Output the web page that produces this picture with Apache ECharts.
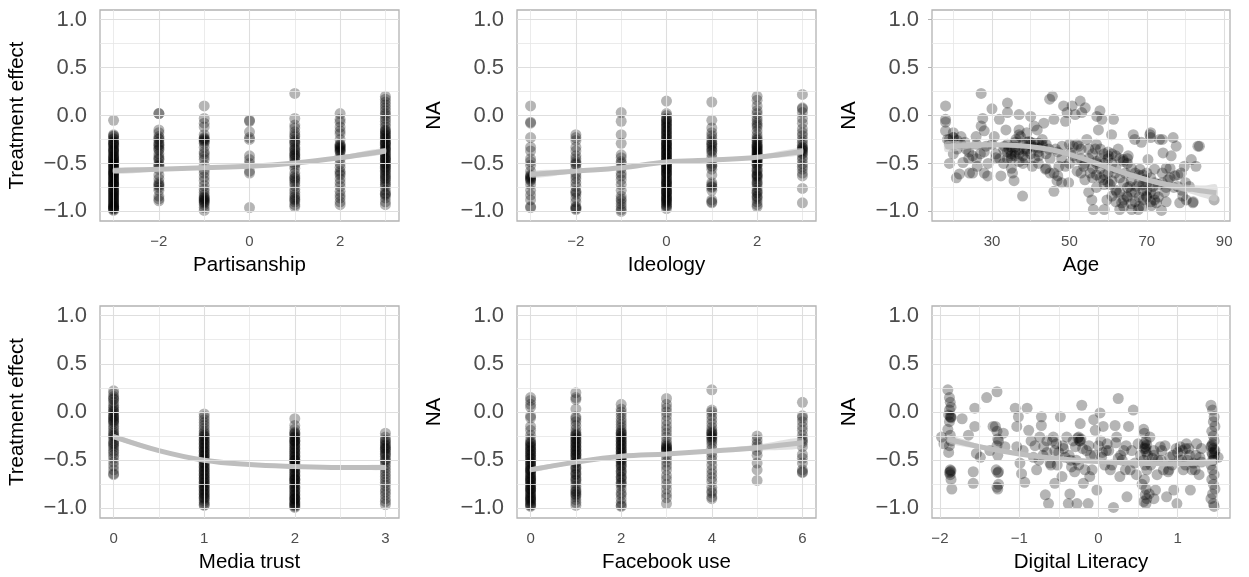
<!DOCTYPE html>
<html><head><meta charset="utf-8">
<script src="https://cdn.jsdelivr.net/npm/echarts@6/dist/echarts.min.js"></script>
<style>html,body{margin:0;padding:0;background:#fff}#c{width:1249px;height:577px}</style>
</head><body><div id="c"></div>
<script>
// ---------------- DATA ----------------
const partisanshipX = [-3, -2, -1, 0, 1, 2, 3];
const partisanshipY = [
  [-0.05,-0.2,-0.22,-0.25,-0.27,-0.29,-0.3,-0.32,-0.34,-0.35,-0.37,-0.39,-0.41,-0.43,-0.45,-0.46,-0.48,-0.5,-0.52,-0.53,-0.55,-0.57,-0.59,-0.6,-0.62,-0.64,-0.66,-0.68,-0.7,-0.72,-0.74,-0.76,-0.78,-0.8,-0.82,-0.84,-0.86,-0.88,-0.9,-0.92,-0.94,-0.96,-0.97,-0.98,-0.99,-0.6,-0.65,-0.72,-0.81,-0.95,
   -0.21,-0.24,-0.28,-0.31,-0.36,-0.38,-0.42,-0.44,-0.47,-0.49,-0.51,-0.54,-0.56,-0.58,-0.61,-0.63,-0.67,-0.69,-0.71,-0.73,-0.77,-0.79,-0.83,-0.85,-0.87,-0.89,-0.91,-0.93,-0.95,-0.97],
  [0.02,0.02,-0.15,-0.18,-0.22,-0.25,-0.28,-0.31,-0.33,-0.36,-0.4,-0.43,-0.46,-0.5,-0.53,-0.56,-0.62,-0.66,-0.7,-0.72,-0.75,-0.78,-0.84,-0.87,-0.89,-0.24,-0.3,-0.35,-0.45,-0.52,-0.73],
  [0.1,-0.03,-0.08,-0.12,-0.2,-0.23,-0.25,-0.27,-0.29,-0.33,-0.38,-0.4,-0.43,-0.46,-0.52,-0.57,-0.6,-0.64,-0.68,-0.73,-0.77,-0.8,-0.83,-0.85,-0.87,-0.88,-0.9,-0.93,-0.96,-0.99,-0.24,-0.26,-0.86,-0.89,-0.91],
  [-0.05,-0.06,-0.17,-0.23,-0.25,-0.42,-0.46,-0.5,-0.58,-0.6,-0.96],
  [0.23,-0.03,-0.1,-0.13,-0.17,-0.2,-0.22,-0.25,-0.28,-0.3,-0.33,-0.36,-0.38,-0.4,-0.42,-0.45,-0.48,-0.5,-0.55,-0.6,-0.63,-0.66,-0.7,-0.73,-0.77,-0.8,-0.83,-0.87,-0.9,-0.93,-0.95,-0.27,-0.35,-0.41,-0.44,-0.52,-0.65,-0.68,-0.85,-0.88],
  [0.02,-0.04,-0.07,-0.12,-0.16,-0.19,-0.25,-0.3,-0.32,-0.33,-0.34,-0.36,-0.38,-0.42,-0.45,-0.5,-0.54,-0.58,-0.62,-0.66,-0.7,-0.74,-0.79,-0.83,-0.86,-0.9,-0.93,-0.31,-0.35,-0.37,-0.6],
  [0.2,0.17,0.14,0.11,0.08,0.05,0.02,0.0,-0.03,-0.06,-0.09,-0.12,-0.15,-0.17,-0.19,-0.21,-0.23,-0.25,-0.27,-0.29,-0.31,-0.33,-0.35,-0.37,-0.39,-0.41,-0.43,-0.45,-0.47,-0.49,-0.51,-0.53,-0.55,-0.57,-0.6,-0.63,-0.66,-0.7,-0.74,-0.78,-0.81,-0.83,-0.86,-0.9,-0.93,
   -0.16,-0.2,-0.24,-0.28,-0.3,-0.34,-0.36,-0.4,-0.44,-0.46,-0.5,-0.54,-0.58,-0.62,-0.65,-0.68,-0.72,-0.82]
];
const partisanshipFitX = [-3, -2, -1, 0, 1, 2, 3];
const partisanshipFitY = [-0.575, -0.56, -0.545, -0.53, -0.495, -0.44, -0.37];
const partisanshipFitLo = [-0.605, -0.58, -0.56, -0.545, -0.51, -0.46, -0.4];
const partisanshipFitHi = [-0.545, -0.54, -0.53, -0.515, -0.48, -0.42, -0.34];

const ideologyX = [-3, -2, -1, 0, 1, 2, 3];
const ideologyY = [
  [0.1,-0.07,-0.08,-0.23,-0.33,-0.37,-0.45,-0.48,-0.52,-0.58,-0.62,-0.63,-0.64,-0.66,-0.68,-0.72,-0.78,-0.83,-0.88,-0.95,-0.96,-0.65,-0.67],
  [-0.2,-0.23,-0.26,-0.33,-0.37,-0.42,-0.45,-0.48,-0.51,-0.55,-0.6,-0.63,-0.66,-0.7,-0.74,-0.79,-0.82,-0.86,-0.9,-0.95,-0.97,-0.98,-0.5,-0.8,-0.96],
  [0.03,-0.06,-0.2,-0.29,-0.41,-0.44,-0.48,-0.5,-0.55,-0.6,-0.63,-0.67,-0.72,-0.78,-0.84,-0.87,-0.89,-0.92,-0.95,-0.98,-1.0],
  [0.15,0.02,0.0,-0.03,-0.05,-0.07,-0.09,-0.11,-0.13,-0.15,-0.17,-0.19,-0.21,-0.23,-0.25,-0.27,-0.29,-0.31,-0.33,-0.35,-0.37,-0.39,-0.41,-0.43,-0.45,-0.47,-0.49,-0.51,-0.53,-0.55,-0.57,-0.59,-0.61,-0.63,-0.65,-0.67,-0.69,-0.71,-0.73,-0.75,-0.77,-0.79,-0.81,-0.83,-0.85,-0.87,-0.89,-0.91,-0.93,-0.95,-0.97,-0.3,-0.4,-0.5,-0.6,-0.7,-0.8,-0.88,
   -0.04,-0.08,-0.12,-0.16,-0.2,-0.24,-0.28,-0.32,-0.36,-0.4,-0.44,-0.48,-0.52,-0.56,-0.6,-0.64,-0.68,-0.72,-0.76,-0.8,-0.84,-0.86,-0.9,-0.94,-0.35,-0.45,-0.55],
  [0.14,-0.05,-0.13,-0.18,-0.21,-0.24,-0.27,-0.3,-0.32,-0.34,-0.37,-0.4,-0.44,-0.5,-0.53,-0.56,-0.62,-0.7,-0.72,-0.75,-0.78,-0.88,-0.9,-0.91,-0.29,-0.36,-0.52,-0.74],
  [0.2,0.16,0.1,0.05,0.02,-0.02,-0.05,-0.08,-0.12,-0.16,-0.2,-0.23,-0.26,-0.28,-0.3,-0.32,-0.34,-0.36,-0.38,-0.4,-0.42,-0.44,-0.46,-0.48,-0.5,-0.52,-0.55,-0.58,-0.61,-0.63,-0.66,-0.69,-0.72,-0.75,-0.78,-0.81,-0.84,-0.87,-0.9,-0.93,-0.95,-0.35,-0.45,-0.62,
   -0.1,-0.25,-0.31,-0.33,-0.37,-0.39,-0.41,-0.43,-0.47,-0.51,-0.57,-0.64,-0.7,-0.8,-0.85],
  [0.22,0.08,0.07,0.03,-0.03,-0.08,-0.14,-0.18,-0.21,-0.25,-0.28,-0.31,-0.33,-0.35,-0.37,-0.4,-0.43,-0.46,-0.5,-0.53,-0.56,-0.6,-0.63,-0.76,-0.91,-0.34,-0.36,-0.39]
];
const ideologyFitX = [-3, -2, -1, 0, 1, 2, 3];
const ideologyFitY = [-0.615, -0.58, -0.545, -0.485, -0.465, -0.435, -0.375];
const ideologyFitLo = [-0.65, -0.6, -0.56, -0.5, -0.48, -0.455, -0.41];
const ideologyFitHi = [-0.58, -0.56, -0.53, -0.47, -0.45, -0.415, -0.34];

const ageX = [18,18,18,18,18.5,19,20,20,20.8,21.6,22.5,22,23.3,24.2,25,25.9,26.2,27.2,27.2,27.6,28,28,28.5,28.9,30,30.6,31,31.9,32.3,33.2,33.6,34,34,34.4,34.9,35.3,35.7,36.2,37,37,37.4,37.9,38.3,38.7,39.6,40,40.4,40.9,41.7,42.1,43,43.4,43.8,44.7,44.9,45.6,46,46.4,46,46.8,47.3,48.1,48.5,49,49.4,49.8,50.3,50.7,51.5,52,52.4,52.8,53.2,53.7,54.1,54.5,55,55.4,55.8,56.2,56.7,57.1,57.5,57.9,58.4,58.8,59,59.7,60.1,60.5,60.9,61.4,61.8,62.2,62.6,63,63.5,63.9,64.4,64.8,65.2,65.6,66.1,66.5,66.9,67.4,67.8,68.2,68.6,69.1,69.5,69.9,70.3,70.8,71.2,71.6,72,72.5,73.3,73.8,74.2,74.6,75,75.5,76.3,76.8,77.2,77.6,78,78.5,78.9,79.3,79.7,80.2,81,81.5,81.9,82.7,83.2,83.6,87.4,
  33,34,35,36,37,38,39,40,41,42,43,35,36,37,20,19,21,50,51,52,53,55,57,58,59,60,61,62,63,64,65,66,67,68,69,70,71,72,64,66,68,70,62,61,65,74,75,73,76,69,71,71,74,46,48,47,44,45,53,54,56,57,58,59,60,57,52,49,42,41,39,32,31,29,27,26,24,23,25,
  34,35,36,37,38,39,40,41,42,43,44,36,34,38,40,42,33,35,37,39,30,28,26,24,22,21,19,20,
  55,56,57,58,59,60,61,62,63,64,65,66,67,68,69,70,71,72,73,63,62,64,65,66,67,68,69,70,71,72,60,61,59,58,57,56,54,53,51,50,48,47,45,44,76,77,78,80,79,82,74,75];
const ageY = [0.1,-0.04,-0.07,-0.16,-0.25,-0.5,-0.18,-0.23,-0.65,-0.61,-0.49,-0.22,-0.35,-0.6,-0.42,-0.22,-0.53,0.23,-0.11,-0.03,-0.16,-0.6,-0.32,-0.63,0.07,-0.22,-0.44,-0.04,-0.63,-0.32,-0.15,0.13,0.03,-0.35,-0.42,-0.6,-0.68,-0.25,0.01,-0.15,-0.22,-0.84,-0.35,-0.46,-0.27,-0.01,-0.53,-0.11,-0.15,-0.42,-0.25,-0.08,-0.56,-0.35,0.17,0.2,-0.04,-0.35,-0.79,-0.68,-0.53,-0.32,0.1,-0.06,0.03,-0.7,-0.39,0.1,0.01,-0.46,-0.32,0.15,0.03,-0.53,0.08,-0.25,-0.8,-0.6,-0.88,-0.98,-0.35,-0.01,-0.15,0.05,-0.04,-0.67,-0.98,-0.88,-0.42,-0.72,-0.2,-0.04,-0.6,-0.8,-0.35,-0.98,-0.91,-0.46,-0.6,-0.84,-0.42,-0.74,-0.98,-0.2,-0.25,-0.74,-0.98,-0.56,-0.28,-0.88,-0.67,-0.84,-0.46,-0.2,-0.94,-0.74,-0.56,-0.91,-0.25,-0.99,-0.39,-0.8,-0.55,-0.67,-0.42,-0.23,-0.63,-0.32,-0.74,-0.91,-0.6,-0.84,-0.53,-0.88,-0.74,-0.46,-0.91,-0.53,-0.32,-0.32,-0.88,
  -0.35,-0.38,-0.4,-0.33,-0.36,-0.3,-0.37,-0.31,-0.29,-0.34,-0.32,-0.45,-0.42,-0.48,-0.23,-0.25,-0.26,-0.3,-0.32,-0.3,-0.35,-0.45,-0.48,-0.55,-0.4,-0.45,-0.5,-0.42,-0.65,-0.7,-0.75,-0.68,-0.8,-0.85,-0.72,-0.78,-0.9,-0.7,-0.88,-0.92,-0.62,-0.6,-0.78,-0.84,-0.5,-0.6,-0.75,-0.85,-0.65,-0.95,-0.23,-0.18,-0.25,-0.6,-0.7,-0.63,-0.55,-0.6,-0.6,-0.67,-0.55,-0.3,-0.35,-0.62,-0.7,-0.75,-0.58,-0.53,-0.5,-0.45,-0.28,-0.45,-0.4,-0.5,-0.4,-0.45,-0.38,-0.28,-0.6,
  -0.3,-0.33,-0.38,-0.4,-0.42,-0.35,-0.28,-0.33,-0.38,-0.3,-0.4,-0.28,-0.45,-0.5,-0.4,-0.29,-0.5,-0.55,-0.2,-0.18,-0.3,-0.38,-0.3,-0.45,-0.3,-0.35,-0.3,-0.4,
  -0.35,-0.4,-0.62,-0.45,-0.5,-0.38,-0.4,-0.55,-0.45,-0.48,-0.45,-0.55,-0.6,-0.7,-0.78,-0.85,-0.8,-0.88,-0.72,-0.8,-0.9,-0.95,-0.85,-0.8,-0.9,-0.95,-0.62,-0.7,-0.65,-0.82,-0.6,-0.68,-0.72,-0.65,-0.5,-0.65,-0.5,-0.45,-0.42,-0.5,-0.45,-0.38,-0.45,-0.3,-0.55,-0.75,-0.62,-0.7,-0.78,-0.9,-0.7,-0.9];
const ageFitX = [18, 25, 30, 35, 40, 45, 50, 55, 60, 65, 70, 75, 80, 85, 88];
const ageFitY = [-0.325, -0.31, -0.305, -0.31, -0.325, -0.355, -0.405, -0.47, -0.54, -0.61, -0.67, -0.72, -0.76, -0.79, -0.805];
const ageFitLo = [-0.38, -0.34, -0.325, -0.33, -0.345, -0.375, -0.425, -0.49, -0.56, -0.63, -0.69, -0.75, -0.8, -0.86, -0.89];
const ageFitHi = [-0.27, -0.28, -0.285, -0.29, -0.305, -0.335, -0.385, -0.45, -0.52, -0.59, -0.65, -0.69, -0.72, -0.73, -0.72];

const mediaTrustX = [0, 1, 2, 3];
const mediaTrustY = [
  [0.22,0.19,0.16,0.13,0.1,0.07,0.05,0.03,0.01,-0.02,-0.04,-0.06,-0.08,-0.1,-0.12,-0.15,-0.17,-0.2,-0.22,-0.25,-0.27,-0.3,-0.32,-0.35,-0.37,-0.4,-0.42,-0.45,-0.48,-0.52,-0.56,-0.6,-0.64,-0.65,0.14,0.0,-0.05,-0.09,-0.24,-0.33],
  [-0.02,-0.05,-0.08,-0.11,-0.14,-0.17,-0.2,-0.22,-0.24,-0.26,-0.28,-0.3,-0.32,-0.34,-0.36,-0.38,-0.4,-0.42,-0.44,-0.46,-0.48,-0.5,-0.52,-0.54,-0.56,-0.58,-0.6,-0.62,-0.64,-0.66,-0.68,-0.7,-0.72,-0.74,-0.76,-0.78,-0.8,-0.82,-0.84,-0.86,-0.88,-0.9,-0.92,-0.94,-0.96,-0.97,
   -0.25,-0.29,-0.33,-0.37,-0.41,-0.45,-0.49,-0.53,-0.57,-0.61,-0.65,-0.69,-0.73,-0.77,-0.81,-0.85,-0.89],
  [-0.07,-0.14,-0.18,-0.21,-0.23,-0.25,-0.27,-0.29,-0.31,-0.33,-0.35,-0.37,-0.39,-0.41,-0.43,-0.45,-0.47,-0.49,-0.51,-0.53,-0.55,-0.57,-0.59,-0.61,-0.63,-0.65,-0.67,-0.69,-0.71,-0.73,-0.75,-0.77,-0.79,-0.81,-0.83,-0.85,-0.87,-0.89,-0.91,-0.93,-0.95,-0.97,-0.98,-0.99,-0.3,-0.5,-0.7,-0.9,
   -0.22,-0.26,-0.3,-0.34,-0.38,-0.42,-0.46,-0.5,-0.54,-0.58,-0.62,-0.66,-0.7,-0.74,-0.78,-0.82,-0.86,-0.9,-0.94,-0.96],
  [-0.22,-0.26,-0.29,-0.32,-0.35,-0.37,-0.39,-0.41,-0.43,-0.46,-0.49,-0.52,-0.55,-0.58,-0.61,-0.64,-0.67,-0.7,-0.73,-0.76,-0.8,-0.83,-0.86,-0.9,-0.93,-0.96,-0.3,-0.34,-0.38,-0.44,-0.5]
];
const mediaTrustFitX = [0, 0.5, 1, 1.5, 2, 2.5, 3];
const mediaTrustFitY = [-0.255, -0.4, -0.5, -0.545, -0.565, -0.575, -0.575];
const mediaTrustFitLo = [-0.28, -0.415, -0.515, -0.558, -0.578, -0.59, -0.6];
const mediaTrustFitHi = [-0.23, -0.385, -0.485, -0.532, -0.552, -0.56, -0.55];

const facebookX = [0, 1, 2, 3, 4, 5, 6];
const facebookY = [
  [0.15,0.12,0.08,0.05,-0.04,-0.06,-0.15,-0.19,-0.24,-0.28,-0.31,-0.33,-0.35,-0.37,-0.39,-0.41,-0.43,-0.45,-0.47,-0.49,-0.51,-0.53,-0.55,-0.57,-0.59,-0.61,-0.63,-0.65,-0.67,-0.69,-0.71,-0.73,-0.75,-0.77,-0.79,-0.81,-0.83,-0.85,-0.87,-0.89,-0.91,-0.93,-0.95,-0.97,-0.98,-0.6,-0.7,-0.8,-0.9,
   -0.32,-0.36,-0.4,-0.44,-0.48,-0.52,-0.56,-0.6,-0.64,-0.68,-0.72,-0.76,-0.8,-0.84,-0.88,-0.92,-0.96],
  [0.2,0.15,0.13,0.03,-0.05,-0.07,-0.1,-0.14,-0.18,-0.21,-0.23,-0.25,-0.27,-0.29,-0.31,-0.33,-0.35,-0.37,-0.39,-0.41,-0.43,-0.45,-0.47,-0.5,-0.53,-0.56,-0.59,-0.62,-0.65,-0.68,-0.71,-0.74,-0.77,-0.8,-0.83,-0.85,-0.88,-0.91,-0.94,-0.97,
   -0.24,-0.28,-0.32,-0.36,-0.4,-0.44,-0.48,-0.52,-0.58,-0.64,-0.7,-0.82,-0.86],
  [0.08,0.03,0.0,-0.03,-0.07,-0.1,-0.13,-0.16,-0.19,-0.21,-0.23,-0.25,-0.27,-0.29,-0.31,-0.33,-0.35,-0.37,-0.39,-0.41,-0.43,-0.45,-0.47,-0.49,-0.51,-0.53,-0.55,-0.58,-0.61,-0.64,-0.67,-0.7,-0.73,-0.76,-0.8,-0.84,-0.86,-0.9,-0.94,-0.97,-0.98,
   -0.22,-0.26,-0.3,-0.34,-0.38,-0.42,-0.46,-0.5,-0.56,-0.62,-0.68,-0.74],
  [0.14,0.08,0.04,0.0,-0.04,-0.09,-0.14,-0.18,-0.22,-0.26,-0.3,-0.33,-0.35,-0.37,-0.39,-0.41,-0.44,-0.48,-0.52,-0.56,-0.6,-0.66,-0.7,-0.75,-0.8,-0.85,-0.89,-0.95,-0.36,-0.38,-0.4],
  [0.23,0.02,0.0,-0.04,-0.08,-0.12,-0.16,-0.19,-0.21,-0.23,-0.25,-0.27,-0.29,-0.31,-0.34,-0.38,-0.42,-0.46,-0.5,-0.55,-0.6,-0.64,-0.68,-0.72,-0.78,-0.82,-0.84,-0.88,-0.9,-0.22,-0.26],
  [-0.25,-0.29,-0.33,-0.36,-0.4,-0.45,-0.53,-0.6,-0.71],
  [0.1,-0.04,-0.06,-0.1,-0.15,-0.19,-0.24,-0.28,-0.3,-0.32,-0.36,-0.44,-0.48,-0.53,-0.6,-0.62,-0.63]
];
const facebookFitX = [0, 1, 2, 3, 4, 5, 6];
const facebookFitY = [-0.6, -0.52, -0.46, -0.435, -0.405, -0.37, -0.32];
const facebookFitLo = [-0.625, -0.535, -0.475, -0.45, -0.425, -0.4, -0.37];
const facebookFitHi = [-0.575, -0.505, -0.445, -0.42, -0.385, -0.34, -0.27];

const literacyX = [-1.9,-1.88,-1.87,-1.86,-1.88,-1.89,-1.87,-1.86,-1.88,-1.9,-1.87,-1.86,-1.88,-1.89,-1.87,-1.86,-1.88,-1.87,-1.86,-1.85,-1.98,-1.95,
  -1.3,-1.28,-1.27,-1.26,-1.28,-1.27,-1.29,-1.27,-1.26,-1.28,-1.27,
  0.57,0.58,0.6,0.61,0.59,0.58,0.6,0.62,0.57,0.59,0.61,0.58,0.6,0.59,0.61,0.57,0.6,
  1.42,1.44,1.46,1.45,1.47,1.43,1.45,1.46,1.44,1.42,1.45,1.47,1.43,1.44,1.46,1.45,1.42,1.44,1.46,1.43,1.45,1.47,1.44,1.42,1.45,1.46,
  -1.72,-1.56,-1.64,-1.58,-1.58,-1.56,-1.54,-1.49,-1.41,-1.37,-1.33,-1.28,-1.2,-1.18,-1.05,-1.03,-1.01,-1.03,-0.99,-0.95,-0.97,-0.93,-0.9,-0.88,-0.82,-0.78,-0.74,-0.72,-0.72,-0.69,-0.67,-0.63,-0.61,-0.57,-0.55,-0.53,-0.48,-0.46,-0.42,-0.4,-0.38,-0.36,-0.34,-0.29,-0.27,-0.25,-0.24,-0.23,-0.21,-0.19,-0.15,-0.13,-0.11,-0.06,-0.04,-0.02,0.02,0.04,0.06,0.11,0.15,0.19,0.21,0.23,0.25,0.27,0.32,0.36,0.38,0.44,0.46,0.5,0.65,0.72,0.78,0.82,0.86,0.9,0.95,0.99,1.03,1.07,1.11,1.16,1.2,1.24,1.28,1.51,
  -0.85,-0.7,-0.6,-0.5,-0.45,-0.35,-0.3,-0.2,-0.1,0.0,0.08,0.13,0.3,0.4,0.7,0.75,0.8,0.88,0.93,1.0,1.05,1.1,1.15,1.22,1.3,-0.65,-0.25,0.05,0.35,0.68,1.12,-0.55,-0.08,0.25,0.98,
  -0.8,-0.75,-0.65,-0.58,-0.52,-0.44,-0.37,-0.32,-0.28,-0.22,-0.17,-0.12,-0.05,0.03,0.1,0.17,0.22,0.28,0.34,0.42,0.48,0.53,0.66,0.7,0.74,0.79,0.84,0.89,0.94,1.02,1.06,1.1,1.14,1.18,1.23,1.27,1.3,0.64,0.7,0.55,-0.26,-0.23,0.58,0.6,1.44,1.46,1.43,-1.87,-1.86,-1.26];
const literacyY = [0.23,0.15,0.1,0.05,0.02,-0.03,-0.05,-0.06,-0.1,-0.18,-0.24,-0.3,-0.35,-0.42,-0.6,-0.61,-0.63,-0.65,-0.7,-0.8,-0.26,-0.33,
  -0.15,-0.2,-0.28,-0.3,-0.35,-0.45,-0.6,-0.63,-0.75,-0.78,-0.8,
  -0.18,-0.22,-0.3,-0.34,-0.36,-0.38,-0.41,-0.45,-0.5,-0.55,-0.6,-0.7,-0.8,-0.86,-0.9,-0.93,-0.95,
  0.07,0.02,-0.05,-0.1,-0.15,-0.2,-0.25,-0.3,-0.33,-0.36,-0.38,-0.4,-0.42,-0.44,-0.46,-0.5,-0.55,-0.6,-0.65,-0.7,-0.75,-0.8,-0.85,-0.9,-0.95,-0.98,
  -0.07,0.04,-0.24,-0.62,-0.74,-0.15,-0.43,-0.47,0.15,-0.4,-0.15,0.21,-0.22,-0.36,0.04,-0.15,-0.05,-0.36,-0.53,-0.4,-0.64,-0.73,0.04,-0.19,-0.47,-0.6,-0.26,-0.05,-0.14,-0.36,-0.86,-0.95,-0.53,-0.26,-0.74,-0.33,-0.05,-0.67,-0.47,-0.26,-0.95,-0.85,-0.57,-0.36,-0.95,-0.26,-0.3,-0.12,0.07,-0.74,-0.4,-0.95,-0.67,-0.08,-0.19,-0.81,-0.01,-0.47,-0.15,-0.33,-0.6,-0.99,-0.14,-0.26,0.14,-0.67,-0.4,-0.88,-0.15,0.02,-0.53,-0.33,-0.26,-0.81,-0.36,-0.6,-0.88,-0.47,-0.81,-0.95,-0.36,-0.6,-0.33,-0.81,-0.53,-0.33,-0.47,-0.47,
  -0.3,-0.45,-0.55,-0.42,-0.35,-0.5,-0.62,-0.38,-0.45,-0.35,-0.55,-0.4,-0.5,-0.6,-0.45,-0.5,-0.4,-0.62,-0.55,-0.42,-0.5,-0.38,-0.45,-0.6,-0.52,-0.3,-0.55,-0.42,-0.35,-0.48,-0.5,-0.4,-0.6,-0.48,-0.38,
  -0.35,-0.5,-0.42,-0.3,-0.55,-0.38,-0.45,-0.3,-0.5,-0.28,-0.6,-0.35,-0.45,-0.3,-0.4,-0.55,-0.32,-0.45,-0.6,-0.4,-0.65,-0.45,-0.55,-0.4,-0.65,-0.5,-0.35,-0.6,-0.45,-0.5,-0.4,-0.55,-0.38,-0.6,-0.45,-0.65,-0.38,-0.85,-0.9,-0.75,-0.27,-0.3,-0.33,-0.38,-0.5,-0.42,-0.35,-0.62,-0.05,-0.62];
const literacyFitX = [-1.9, -1.5, -1, -0.5, 0, 0.5, 1, 1.48];
const literacyFitY = [-0.28, -0.36, -0.435, -0.485, -0.515, -0.532, -0.537, -0.515];
const literacyFitLo = [-0.32, -0.385, -0.45, -0.5, -0.53, -0.547, -0.555, -0.545];
const literacyFitHi = [-0.24, -0.335, -0.42, -0.47, -0.5, -0.517, -0.519, -0.485];

const xTitles = ['Partisanship', 'Ideology', 'Age', 'Media trust', 'Facebook use', 'Digital Literacy'];
const yTitles = ['Treatment effect', 'NA', 'NA', 'Treatment effect', 'NA', 'NA'];
const yMajor = [-1, -0.5, 0, 0.5, 1];
const yMinor = [-0.75, -0.25, 0.25, 0.75];
const xMajor = [[-2, 0, 2], [-2, 0, 2], [30, 50, 70, 90], [0, 1, 2, 3], [0, 2, 4, 6], [-2, -1, 0, 1]];
const xMinor = [[-3, -1, 1, 3], [-3, -1, 1, 3], [20, 40, 60, 80], [0.5, 1.5, 2.5], [1, 3, 5], [-1.5, -0.5, 0.5, 1.5]];

// ---------------- LAYOUT / BUILD ----------------
const xRange = [[-3.3, 3.3], [-3.3, 3.3], [14.5, 91.5], [-0.15, 3.15], [-0.3, 6.3], [-2.1, 1.66]];
const yRange = [-1.1, 1.1];
const grids = [
  { left: 100, top: 10, width: 299, height: 211 },
  { left: 517, top: 10, width: 299, height: 211 },
  { left: 932, top: 10, width: 298, height: 211 },
  { left: 100, top: 306, width: 299, height: 212 },
  { left: 517, top: 306, width: 299, height: 212 },
  { left: 932, top: 306, width: 298, height: 212 }
];

function discretePts(xs, ys) { const p = []; xs.forEach((x, i) => ys[i].forEach(v => p.push([x, v]))); return p; }
function pairPts(xs, ys) { return xs.map((x, i) => [x, ys[i]]); }

const scatterData = [
  discretePts(partisanshipX, partisanshipY),
  discretePts(ideologyX, ideologyY),
  pairPts(ageX, ageY),
  discretePts(mediaTrustX, mediaTrustY),
  discretePts(facebookX, facebookY),
  pairPts(literacyX, literacyY)
];
const fits = [
  [partisanshipFitX, partisanshipFitY, partisanshipFitLo, partisanshipFitHi],
  [ideologyFitX, ideologyFitY, ideologyFitLo, ideologyFitHi],
  [ageFitX, ageFitY, ageFitLo, ageFitHi],
  [mediaTrustFitX, mediaTrustFitY, mediaTrustFitLo, mediaTrustFitHi],
  [facebookFitX, facebookFitY, facebookFitLo, facebookFitHi],
  [literacyFitX, literacyFitY, literacyFitLo, literacyFitHi]
];

const FONT = "'Liberation Sans', Arial, Helvetica, sans-serif";
const minus = s => s.replace('-', '\u2212');
const fmtX = v => minus(String(+(+v).toFixed(2)));
const fmtY = v => minus((+v).toFixed(1));

const grid = [], xAxis = [], yAxis = [], series = [];
for (let i = 0; i < 6; i++) {
  grid.push(Object.assign({ show: true, backgroundColor: '#fff', borderColor: '#b3b3b3', borderWidth: 1.3, z: 0 }, grids[i]));
  xAxis.push({
    gridIndex: i, type: 'value', min: xRange[i][0], max: xRange[i][1],
    axisLine: { show: false }, splitLine: { show: false },
    axisTick: { show: true, customValues: xMajor[i], length: 4, lineStyle: { color: '#b3b3b3', width: 1 } },
    axisLabel: { customValues: xMajor[i], formatter: fmtX, fontSize: 15, color: '#4d4d4d', margin: 13, fontFamily: FONT },
    name: xTitles[i], nameLocation: 'middle', nameGap: 34,
    nameTextStyle: { fontSize: 20.5, color: '#000', fontFamily: FONT }
  });
  yAxis.push({
    gridIndex: i, type: 'value', min: yRange[0], max: yRange[1],
    axisLine: { show: false }, splitLine: { show: false },
    axisTick: { show: true, customValues: yMajor, length: 4, lineStyle: { color: '#b3b3b3', width: 1 } },
    axisLabel: { customValues: yMajor, formatter: fmtY, fontSize: 22, color: '#4d4d4d', margin: 13, fontFamily: FONT },
    name: yTitles[i], nameLocation: 'middle', nameGap: 72, nameRotate: 90,
    nameTextStyle: { fontSize: 20.5, color: '#000', fontFamily: FONT }
  });
  const gl = [];
  yMinor.forEach(v => gl.push({ yAxis: v, lineStyle: { color: '#e6e6e6', width: 0.8 } }));
  xMinor[i].forEach(v => gl.push({ xAxis: v, lineStyle: { color: '#e6e6e6', width: 0.8 } }));
  yMajor.forEach(v => gl.push({ yAxis: v, lineStyle: { color: '#dedede', width: 1.1 } }));
  xMajor[i].forEach(v => gl.push({ xAxis: v, lineStyle: { color: '#dedede', width: 1.1 } }));
  series.push({
    type: 'line', xAxisIndex: i, yAxisIndex: i, data: [], z: 1, silent: true,
    markLine: { silent: true, symbol: ['none', 'none'], label: { show: false }, animation: false, data: gl, lineStyle: { type: 'solid' } }
  });
  series.push({
    type: 'scatter', xAxisIndex: i, yAxisIndex: i, data: scatterData[i], z: 2,
    symbolSize: 11, itemStyle: { color: 'rgba(0,0,0,0.36)' }, silent: true
  });
  const [fx, fy, flo, fhi] = fits[i];
  series.push({
    type: 'custom', xAxisIndex: i, yAxisIndex: i, z: 3, silent: true, data: [0],
    renderItem: (params, api) => {
      const pts = [];
      fx.forEach((x, k) => pts.push(api.coord([x, flo[k]])));
      for (let k = fx.length - 1; k >= 0; k--) pts.push(api.coord([fx[k], fhi[k]]));
      return { type: 'polygon', shape: { points: pts, smooth: 0.3 }, style: { fill: 'rgba(205,205,205,0.6)' } };
    }
  });
  series.push({
    type: 'line', xAxisIndex: i, yAxisIndex: i, z: 4, silent: true, smooth: 0.4,
    data: fx.map((x, k) => [x, fy[k]]), showSymbol: false, symbol: 'none',
    lineStyle: { color: '#bebebe', width: 5 }
  });
}

const chart = echarts.init(document.getElementById('c'), null, { renderer: 'canvas' });
chart.setOption({ animation: false, backgroundColor: '#fff', grid, xAxis, yAxis, series });
</script></body></html>
